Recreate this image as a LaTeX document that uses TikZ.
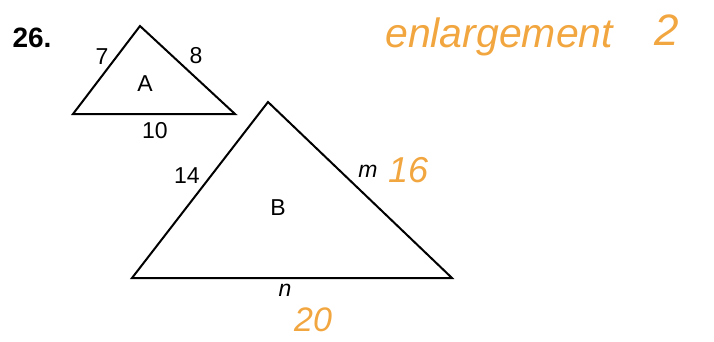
\documentclass[tikz,border=0pt]{standalone}
\usepackage{fontspec}
\setmainfont{Liberation Sans}
\usetikzlibrary{positioning}
\definecolor{penorange}{RGB}{242,166,64}

\begin{document}
\begin{tikzpicture}[x=1pt, y=-1pt,
    side/.style={line width=2pt, line join=miter},
    lbl/.style={font=\fontsize{23}{23}\selectfont, inner sep=0pt},
    hand/.style={font=\fontsize{41}{41}\selectfont\itshape, text=penorange, inner sep=0pt, anchor=base west}]
    \useasboundingbox (0,0) rectangle (714,341);

    % Question number
    \node[font=\bfseries\fontsize{28}{28}\selectfont, inner sep=0pt] (qnum) at (32,38) {26.};

    % Triangle A
    \coordinate (aTop) at (140,26);
    \coordinate (aLeft) at (73,114);
    \coordinate (aRight) at (235,114);
    \draw[side] (aLeft) -- (aTop) -- (aRight) -- cycle;
    \node[lbl] (aSideL) at (102,57) {7};
    \node[lbl] (aSideR) at (196,56) {8};
    \node[lbl] (aName) at (145,84) {A};
    \node[lbl] (aBase) at (155,131) {10};

    % Triangle B
    \coordinate (bTop) at (268,102);
    \coordinate (bLeft) at (132,278);
    \coordinate (bRight) at (452,278);
    \draw[side] (bLeft) -- (bTop) -- (bRight) -- cycle;
    \node[lbl] (bSideL) at (187,176) {14};
    \node[lbl, font=\fontsize{23}{23}\selectfont\itshape] (bSideR) at (368,171) {m};
    \node[lbl] (bName) at (278,208) {B};
    \node[lbl, font=\fontsize{23}{23}\selectfont\itshape] (bBase) at (285,290) {n};

    % Handwritten working
    \node[hand] (note) at (385,47) {enlargement};
    \node[hand, font=\fontsize{44}{44}\selectfont\itshape] (factor) at (654,45) {2};
    \node[hand, font=\fontsize{36}{36}\selectfont\itshape] (mVal) at (388,182) {16};
    \node[hand, font=\fontsize{34}{34}\selectfont\itshape] (nVal) at (294,331) {20};
\end{tikzpicture}
\end{document}
